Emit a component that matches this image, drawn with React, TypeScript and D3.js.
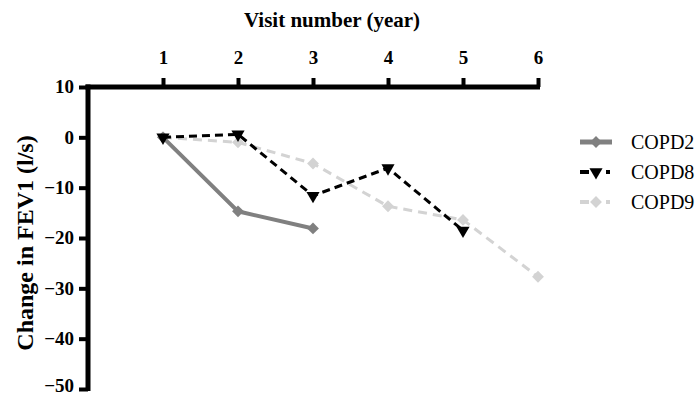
import { useEffect, useRef } from 'react';
import * as d3 from 'd3';

const VISITS = [1, 2, 3, 4, 5, 6];
const Y_TICKS = [10, 0, -10, -20, -30, -40, -50];
const COPD2 = [0, -14.7, -18.1];
const COPD8 = [0, 0.6, -11.6, -6.1, -18.5];
const COPD9 = [0, -1.0, -5.2, -13.7, -16.4, -27.7];

const SERIES = [
  { name: 'COPD2', values: COPD2, color: '#808080', dash: null, width: 4, marker: 'diamond' },
  { name: 'COPD8', values: COPD8, color: '#000000', dash: '8,5', width: 3, marker: 'triangle' },
  { name: 'COPD9', values: COPD9, color: '#d3d3d3', dash: '9,6', width: 3, marker: 'diamond' },
];

const W = 700;
const H = 396;
const FONT = "'Liberation Serif', 'Times New Roman', Times, serif";

export default function App() {
  const svgRef = useRef<SVGSVGElement>(null);

  useEffect(() => {
    const svg = d3.select(svgRef.current);
    svg.selectAll('*').remove();

    const x = d3.scaleLinear().domain([0, 6]).range([88, 538]);
    const y = d3.scaleLinear().domain([10, -50]).range([87, 389]);

    // title on top
    svg
      .append('text')
      .attr('x', 332)
      .attr('y', 27)
      .attr('text-anchor', 'middle')
      .style('font-family', FONT)
      .attr('font-weight', 'bold')
      .attr('font-size', 21)
      .text('Visit number (year)');

    // y title
    svg
      .append('text')
      .attr('transform', `translate(33, ${243}) rotate(-90)`)
      .attr('text-anchor', 'middle')
      .style('font-family', FONT)
      .attr('font-weight', 'bold')
      .attr('font-size', 24)
      .text('Change in FEV1 (l/s)');

    const axisG = svg.append('g');
    // top x axis
    const xAxis = d3
      .axisTop(x)
      .tickValues(VISITS)
      .tickFormat(d3.format('d'))
      .tickSize(9)
      .tickSizeOuter(0)
      .tickPadding(14);
    const gx = axisG.append('g').attr('transform', `translate(0, ${y(10)})`).call(xAxis);
    gx.select('.domain').attr('stroke-width', 5).attr('stroke', '#000')
      .attr('d', `M${x(0) - 2.5},0H${x(6) + 2}`);
    gx.selectAll('.tick line').attr('stroke-width', 4);
    gx.selectAll('.tick text')
      .style('font-family', FONT)
      .attr('font-weight', 'bold')
      .attr('font-size', 19)
      .attr('fill', '#000');

    // left y axis
    const yAxis = d3
      .axisLeft(y)
      .tickValues(Y_TICKS)
      .tickFormat(d3.format('d'))
      .tickSize(9)
      .tickSizeOuter(0)
      .tickPadding(5);
    const gy = axisG.append('g').attr('transform', `translate(${x(0)}, 0)`).call(yAxis);
    gy.select('.domain').attr('stroke-width', 5).attr('stroke', '#000')
      .attr('d', `M0,${y(10) - 2.5}V${y(-50) + 2}`);
    gy.selectAll('.tick line').attr('stroke-width', 4);
    gy.selectAll('.tick text')
      .style('font-family', FONT)
      .attr('font-weight', 'bold')
      .attr('font-size', 19)
      .attr('dy', (d: any) => (d === -50 ? '0.12em' : '0.3em'))
      .attr('fill', '#000');

    const line = d3
      .line<number>()
      .x((_d, i) => x(VISITS[i]))
      .y(d => y(d));

    const diamond = d3.symbol(d3.symbolSquare, 70);
    const tri = d3.symbol(d3.symbolTriangle, 75);

    const drawMarker = (g: any, kind: string, cx: number, cy: number, color: string) => {
      if (kind === 'diamond') {
        g.append('path')
          .attr('d', diamond())
          .attr('transform', `translate(${cx},${cy}) rotate(45)`)
          .attr('fill', color);
      } else {
        g.append('path')
          .attr('d', tri())
          .attr('transform', `translate(${cx},${cy}) rotate(180)`)
          .attr('fill', color);
      }
    };

    // draw COPD9 first (back), then COPD2, then COPD8
    const order = [SERIES[2], SERIES[0], SERIES[1]];
    order.forEach(s => {
      const g = svg.append('g');
      g.append('path')
        .attr('d', line(s.values))
        .attr('fill', 'none')
        .attr('stroke', s.color)
        .attr('stroke-width', s.width)
        .attr('stroke-dasharray', s.dash ?? null);
      s.values.forEach((v, i) => drawMarker(g, s.marker, x(VISITS[i]), y(v), s.color));
    });

    // legend
    const legend = svg.append('g');
    SERIES.forEach((s, i) => {
      const ly = 142 + i * 30;
      const g = legend.append('g');
      if (s.dash) {
        g.append('line')
          .attr('x1', 580).attr('x2', 589).attr('y1', ly).attr('y2', ly)
          .attr('stroke', s.color).attr('stroke-width', s.width + 1);
        g.append('line')
          .attr('x1', 606).attr('x2', 610).attr('y1', ly).attr('y2', ly)
          .attr('stroke', s.color).attr('stroke-width', s.width + 1);
      } else {
        g.append('line')
          .attr('x1', 580).attr('x2', 612).attr('y1', ly).attr('y2', ly)
          .attr('stroke', s.color).attr('stroke-width', s.width + 1);
      }
      drawMarker(g, s.marker, 596, ly, s.color);
      g.append('text')
        .attr('x', 631)
        .attr('y', ly)
        .attr('dy', '0.35em')
        .style('font-family', FONT)
        .attr('font-size', 20)
        .attr('fill', '#000')
        .text(s.name);
    });
  }, []);

  return (
    <div style={{ position: 'fixed', left: 0, top: 0, background: '#fff' }}>
      <svg ref={svgRef} width={W} height={H} style={{ display: 'block' }} />
    </div>
  );
}
